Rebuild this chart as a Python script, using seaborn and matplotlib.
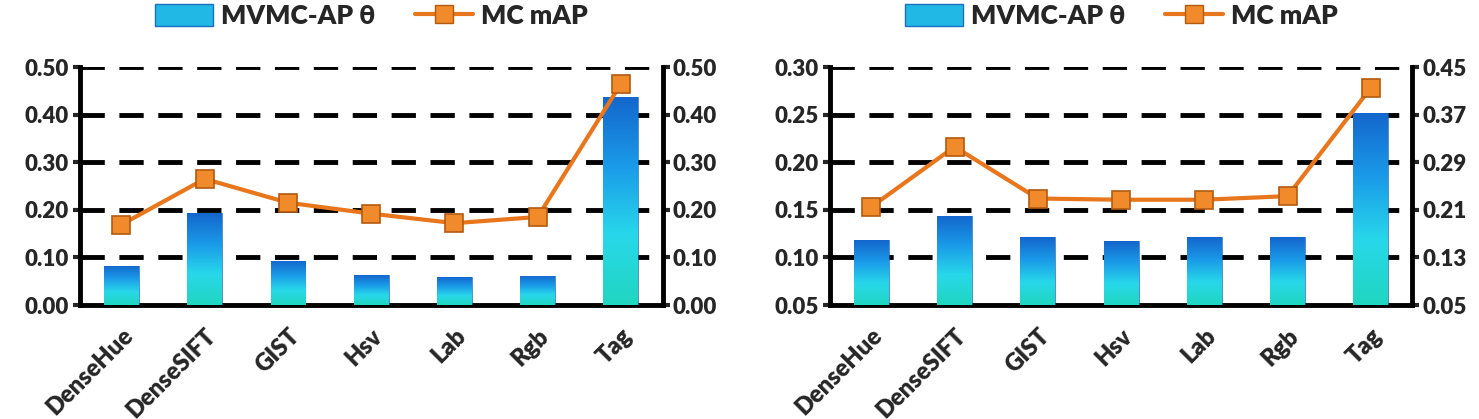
import numpy as np
import pandas as pd
import matplotlib
matplotlib.use("Agg")
import matplotlib.pyplot as plt
from matplotlib.lines import Line2D
from matplotlib.patches import Patch
from matplotlib.colors import LinearSegmentedColormap
import seaborn as sns

sns.set_style("white")
plt.rcParams['font.family'] = ['Lato', 'DejaVu Sans']
plt.rcParams['font.weight'] = 'heavy'

features = ["DenseHue", "DenseSIFT", "GIST", "Hsv", "Lab", "Rgb", "Tag"]

# left panel
theta_left = [0.083, 0.193, 0.093, 0.063, 0.058, 0.061, 0.438]
map_left = [0.169, 0.265, 0.215, 0.192, 0.172, 0.185, 0.465]
# right panel
theta_right = [0.118, 0.144, 0.121, 0.117, 0.121, 0.121, 0.252]
map_right = [0.215, 0.316, 0.229, 0.227, 0.227, 0.233, 0.415]

left_ticks = [0.0, 0.1, 0.2, 0.3, 0.4, 0.5]
right_left_ticks = [0.05, 0.10, 0.15, 0.20, 0.25, 0.30]
right_right_ticks = [0.05, 0.13, 0.21, 0.29, 0.37, 0.45]

orange = "#e8761c"
grad = LinearSegmentedColormap.from_list("g", ["#20d6c0", "#28d8ea", "#1a9ae8", "#1466cc"])

fig = plt.figure(figsize=(14.79, 4.19), dpi=100)


def panel(rect, theta, mapv, lticks, rticks):
    ax = fig.add_axes(rect)
    df = pd.DataFrame({"feature": features, "theta": theta})
    sns.barplot(data=df, x="feature", y="theta", ax=ax, width=0.42,
                color="#1a8ae0", saturation=1, zorder=3)
    ax.set_ylim(lticks[0], lticks[-1])
    ax.set_xlim(-0.5, len(features) - 0.5)
    # gradient fill on bars
    for p in ax.patches:
        x0, y0 = p.get_x(), lticks[0]
        x1, y1 = x0 + p.get_width(), p.get_y() + p.get_height()
        g = np.linspace(0, 1, 256).reshape(-1, 1)
        im = ax.imshow(g, cmap=grad, origin="lower", aspect="auto",
                       extent=[x0, x1, y0, y1], zorder=3)
        im.set_clip_path(p)
        p.set_facecolor("none")
        p.set_edgecolor("#1060b0")
        p.set_linewidth(0.5)
    ax.set_yticks(lticks)
    ax.set_yticklabels([f"{t:.2f}" for t in lticks])
    for t in lticks[1:]:
        ax.axhline(t, color="black", lw=3.5, ls=(0, (5, 3)), zorder=1)
    ax.set_xlabel("")
    ax.set_ylabel("")
    ax.set_xticks(range(len(features)))
    ax.set_xticklabels(features, rotation=45, ha="right", rotation_mode="anchor")
    ax.tick_params(axis="x", length=0, pad=14, labelsize=17)
    ax.set_xticks(np.arange(-0.5, len(features)), minor=True)
    ax.tick_params(axis="x", which="minor", length=12, width=3, direction="inout")
    ax.tick_params(axis="y", length=5, width=3, labelsize=16, pad=3)
    ax.set_ylim(lticks[0], lticks[-1])
    for s in ["left", "bottom"]:
        ax.spines[s].set_linewidth(3.5)
        ax.spines[s].set_color("black")
    ax.spines["top"].set_visible(False)
    ax.spines["right"].set_visible(False)

    ax2 = ax.twinx()
    sns.lineplot(x=np.arange(len(features)), y=mapv, ax=ax2, color=orange, lw=3,
                 marker="s", markersize=13, markerfacecolor="#f08a2a",
                 markeredgecolor="#b35a10", markeredgewidth=1.2, zorder=5)
    ax2.set_ylim(rticks[0], rticks[-1])
    ax2.set_yticks(rticks)
    ax2.set_yticklabels([f"{t:.2f}" for t in rticks])
    ax2.tick_params(axis="y", length=5, width=3, labelsize=16, pad=2)
    ax2.spines["right"].set_linewidth(3.5)
    ax2.spines["right"].set_color("black")
    for s in ["top", "left", "bottom"]:
        ax2.spines[s].set_visible(False)
    ax2.set_xlim(-0.5, len(features) - 0.5)

    handles = [Patch(facecolor="#22b8e6", edgecolor="#1a70c0", lw=1),
               Line2D([0], [0], color=orange, lw=3, marker="s", markersize=13,
                      markerfacecolor="#f08a2a", markeredgecolor="#b35a10")]
    ax.legend(handles, ["MVMC-AP θ", "MC mAP"], loc="center",
              bbox_to_anchor=(0.5, 1.215), ncol=2, frameon=False,
              prop={"size": 19, "weight": "heavy"}, handlelength=2.2,
              handleheight=0.9, handletextpad=0.3, columnspacing=1.5,
              borderaxespad=0, borderpad=0)


panel([0.054, 0.272, 0.394, 0.568], theta_left, map_left, left_ticks, left_ticks)
panel([0.561, 0.272, 0.394, 0.568], theta_right, map_right, right_left_ticks, right_right_ticks)

fig.savefig("out.png", dpi=100)
